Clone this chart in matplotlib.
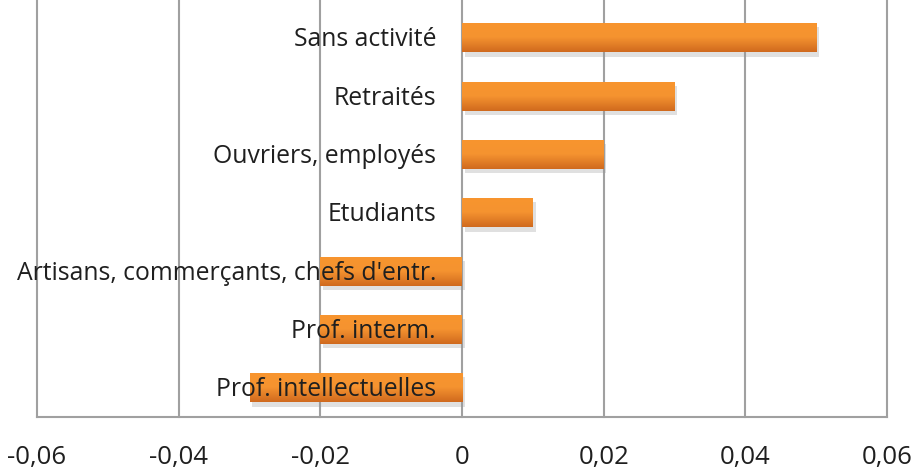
import numpy as np
import matplotlib
matplotlib.use('Agg')
import matplotlib.pyplot as plt
import matplotlib.patheffects as pe
from matplotlib.colors import LinearSegmentedColormap

categories = ['Sans activité', 'Retraités', 'Ouvriers, employés', 'Etudiants',
              'Artisans, commerçants, chefs d\'entr.', 'Prof. interm.',
              'Prof. intellectuelles']
values = [0.05, 0.03, 0.02, 0.01, -0.02, -0.02, -0.03]
xticks = [-0.06, -0.04, -0.02, 0, 0.02, 0.04, 0.06]
xticklabels = ['-0,06', '-0,04', '-0,02', '0', '0,02', '0,04', '0,06']

plt.rcParams['font.family'] = ['Open Sans', 'DejaVu Sans']

fig = plt.figure(figsize=(9.17, 4.74), dpi=100)
ax = fig.add_axes([37/917, 57/474, 850/917, 417/474])

pos = np.arange(len(categories))[::-1]
shadow = [pe.SimplePatchShadow(offset=(2, -3), shadow_rgbFace='#999999', alpha=0.3), pe.Normal()]
bars = ax.barh(pos, values, height=0.5, color='#EE8728', edgecolor='none', zorder=3)

# vertical orange gradient on each bar, like the office chart style
grad = LinearSegmentedColormap.from_list('org', ['#D06A1E', '#F59330', '#F8952E'])
g = np.linspace(0, 1, 64).reshape(-1, 1)
for b in bars:
    b.set_path_effects(shadow)
    x0, y0, w, h = b.get_x(), b.get_y(), b.get_width(), b.get_height()
    im = ax.imshow(g, cmap=grad, aspect='auto', origin='lower',
                   extent=[x0, x0 + w, y0, y0 + h], zorder=4)
    im.set_clip_path(b)

for y, name in zip(pos, categories):
    ax.annotate(name, xy=(0, y), xytext=(-26, -2), textcoords='offset pixels',
                ha='right', va='center', fontsize=17.8, color='#1f1f1f', zorder=5)

ax.set_xlim(-0.06, 0.06)
ax.set_ylim(-0.5, 6.65)
ax.set_xticks(xticks)
ax.set_xticklabels(xticklabels, fontsize=18.5, color='#1f1f1f')
ax.set_yticks([])
ax.tick_params(axis='x', length=0, pad=20)
ax.grid(axis='x', color='#a0a0a0', lw=1.5, zorder=0)
for gl in ax.get_xgridlines():
    gl.set_clip_on(False)
for s in ['top', 'left', 'right']:
    ax.spines[s].set_visible(False)
ax.spines['bottom'].set_color('#a0a0a0')
ax.spines['bottom'].set_linewidth(1.5)

plt.savefig('out.png', dpi=100)
